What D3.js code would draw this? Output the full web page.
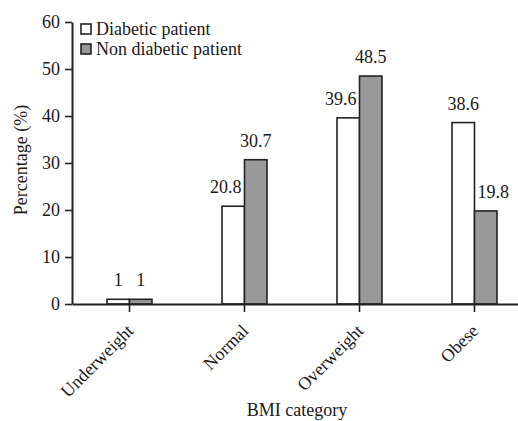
<!DOCTYPE html>
<html>
<head>
<meta charset="utf-8">
<script src="https://cdn.jsdelivr.net/npm/d3@7"></script>
<style>
  html, body { margin: 0; padding: 0; background: #fff; }
  svg { display: block; }
  text { font-family: "Liberation Serif", "Times New Roman", serif; fill: #1a1a1a; }
</style>
</head>
<body>
<svg id="chart" width="518" height="421"></svg>
<script>
const categories = ["Underweight", "Normal", "Overweight", "Obese"];
const seriesNames = ["Diabetic patient", "Non diabetic patient"];
const diabetic = [1, 20.8, 39.6, 38.6];
const nonDiabetic = [1, 30.7, 48.5, 19.8];
const yTicks = [0, 10, 20, 30, 40, 50, 60];
const seriesColors = ["#ffffff", "#999999"];

const W = 518, H = 421;
const svg = d3.select("#chart");
const fs = 18;

const x0 = d3.scaleBand().domain(categories).range([72, 532]).paddingInner(0.609).paddingOuter(0.3045);
const x1 = d3.scaleBand().domain(seriesNames).range([0, x0.bandwidth()]);
const y = d3.scaleLinear().domain([0, 60]).range([304, 22]);
const color = d3.scaleOrdinal().domain(seriesNames).range(seriesColors);

const rows = categories.map((c, i) => ({cat: c, vals: [
  {s: seriesNames[0], v: diabetic[i], other: nonDiabetic[i], idx: 0},
  {s: seriesNames[1], v: nonDiabetic[i], other: diabetic[i], idx: 1}
]}));

// bars
const g = svg.append("g");
const groups = g.selectAll("g.cat").data(rows).join("g")
  .attr("transform", d => `translate(${x0(d.cat)},0)`);
groups.selectAll("rect").data(d => d.vals).join("rect")
  .attr("x", d => x1(d.s))
  .attr("y", d => y(d.v))
  .attr("width", x1.bandwidth())
  .attr("height", d => y(0) - y(d.v))
  .attr("fill", d => color(d.s))
  .attr("stroke", "#222")
  .attr("stroke-width", 1.6);

// value labels
groups.each(function(d) {
  const grp = d3.select(this);
  d.vals.forEach(b => {
    const cx = x1(b.s) + x1.bandwidth() / 2;
    const t = grp.append("text")
      .attr("y", y(b.v) - 13)
      .attr("font-size", fs)
      .text(b.v);
    const w = t.node().getComputedTextLength();
    let left = cx - w / 2;
    const blocked = y(b.other) < y(b.v) - 13;
    if (blocked && b.idx === 0) left = x1(b.s) + x1.bandwidth() - 3 - w;
    if (blocked && b.idx === 1) left = x1(b.s) + 3;
    t.attr("x", left);
  });
});

// y axis
const yAxis = svg.append("g").attr("transform", "translate(72,0)")
  .call(d3.axisLeft(y).tickValues(yTicks).tickSize(7).tickSizeOuter(0).tickPadding(5));
yAxis.selectAll("text").attr("font-size", fs).attr("font-family", "Liberation Serif");
yAxis.selectAll("line").attr("stroke", "#222").attr("stroke-width", 1.6);
yAxis.select(".domain").attr("stroke", "#222").attr("stroke-width", 2);

// x axis
const xAxis = svg.append("g").attr("transform", "translate(0,304)")
  .call(d3.axisBottom(x0).tickSize(8).tickSizeOuter(0).tickPadding(6));
xAxis.select(".domain").attr("stroke", "#222").attr("stroke-width", 2);
xAxis.selectAll("line").attr("stroke", "#222").attr("stroke-width", 1.6);
xAxis.selectAll(".tick text")
  .attr("font-size", fs).attr("font-family", "Liberation Serif")
  .attr("text-anchor", "end")
  .attr("dy", 0)
  .attr("y", 0)
  .attr("transform", "translate(5,28) rotate(-45)");

// axis titles
svg.append("text").attr("x", 297).attr("y", 416).attr("text-anchor", "middle")
  .attr("font-size", fs).text("BMI category");
svg.append("text").attr("transform", "translate(27,160) rotate(-90)").attr("text-anchor", "middle")
  .attr("font-size", fs).text("Percentage (%)");

// legend
const leg = svg.append("g").attr("transform", "translate(81,24)");
const li = leg.selectAll("g").data(seriesNames).join("g")
  .attr("transform", (d, i) => `translate(0,${i * 20})`);
li.append("rect").attr("width", 10).attr("height", 10)
  .attr("fill", d => color(d)).attr("stroke", "#222").attr("stroke-width", 1.6);
li.append("text").attr("x", 15).attr("y", 10.5).attr("font-size", fs).text(d => d);
</script>
</body>
</html>
